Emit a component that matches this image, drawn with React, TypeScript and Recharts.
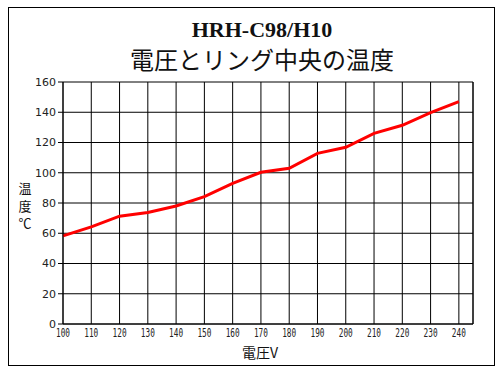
import { LineChart, Line, XAxis, YAxis, CartesianGrid, ReferenceLine } from "recharts";

const voltages = [100, 110, 120, 130, 140, 150, 160, 170, 180, 190, 200, 210, 220, 230, 240];
const temps = [58.3, 64.2, 71.3, 73.7, 78, 84.2, 93, 100.3, 103, 112.8, 116.8, 126, 131.4, 139.7, 147];
const xTicks = [100, 110, 120, 130, 140, 150, 160, 170, 180, 190, 200, 210, 220, 230, 240];
const yTicks = [0, 20, 40, 60, 80, 100, 120, 140, 160];
const yLabelChars = ["温", "度", "℃"];

const data = voltages.map((v, i) => ({ v, t: temps[i] }));

function XTick({ x, payload }: any) {
  return (
    <text x={x} y={337} textAnchor="middle" fontSize={13} fontFamily="DejaVu Sans Mono" fill="#222"
      textLength={14} lengthAdjust="spacingAndGlyphs">
      {payload.value}
    </text>
  );
}

export default function App() {
  return (
    <div style={{ position: "absolute", left: 0, top: 0, width: 503, height: 375, background: "#fff" }}>
      <div style={{ position: "absolute", left: 8, top: 7, width: 485, height: 357, border: "1px solid #000" }} />
      <div style={{ position: "absolute", left: 162, width: 200, top: 17, textAlign: "center", fontFamily: "Liberation Serif", fontWeight: "bold", fontSize: 22, lineHeight: "26px", color: "#111" }}>
        HRH-C98/H10
      </div>
      <div style={{ position: "absolute", left: 112, width: 300, top: 43, textAlign: "center", fontFamily: "Noto Sans CJK JP", fontSize: 24, lineHeight: "32px", color: "#111" }}>
        電圧とリング中央の温度
      </div>
      {yLabelChars.map((c, i) => (
        <div key={c} style={{ position: "absolute", left: 17, width: 16, top: 181 + i * 17.5, textAlign: "center", fontFamily: "Noto Sans CJK JP", fontSize: 13, lineHeight: "14px", color: "#111" }}>
          {c}
        </div>
      ))}
      <div style={{ position: "absolute", left: 210, width: 100, top: 343, textAlign: "center", fontFamily: "Noto Sans CJK JP", fontSize: 14, lineHeight: "18px", color: "#111" }}>
        電圧V
      </div>
      <div style={{ position: "absolute", left: 0, top: 0 }}>
        <LineChart width={503} height={375} data={data} margin={{ top: 82, right: 30, bottom: 31, left: 23 }}>
          <CartesianGrid stroke="#000" strokeWidth={1} />
          <XAxis dataKey="v" type="number" domain={[100, 245]} ticks={xTicks} interval={0}
            tickLine={false} axisLine={{ stroke: "#000" }} height={20} tick={<XTick />} />
          <YAxis type="number" domain={[0, 160]} ticks={yTicks} width={40} interval={0}
            tickSize={5} tickLine={{ stroke: "#000" }} axisLine={{ stroke: "#000" }}
            tick={{ fontSize: 11, fontFamily: "DejaVu Sans", fill: "#222" }} />
          <ReferenceLine x={245} stroke="#000" strokeWidth={1} />
          <Line type="linear" dataKey="t" stroke="#ff0000" strokeWidth={3} dot={false} isAnimationActive={false} />
        </LineChart>
      </div>
    </div>
  );
}
